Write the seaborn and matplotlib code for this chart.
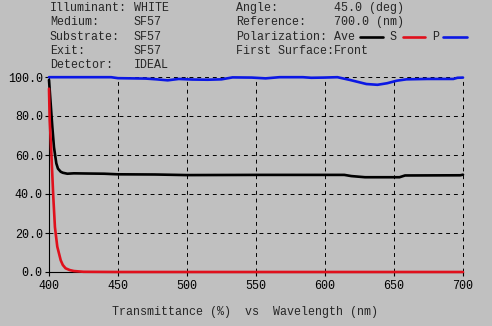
import matplotlib
matplotlib.use("Agg")
import matplotlib.pyplot as plt
import seaborn as sns
import pandas as pd
from matplotlib.lines import Line2D

# ---------------- data ----------------
wl_ave = [400, 401.2, 402.4, 403.6, 405.3, 406.5, 408.5, 410, 413.3, 418, 428, 440, 450,
          477, 500, 553, 614, 619, 629, 654, 658, 698, 700]
t_ave = [98.5, 86.5, 74.5, 64.0, 55.7, 53.0, 51.4, 50.9, 50.4, 50.6, 50.5, 50.4, 50.1,
         50.0, 49.7, 49.8, 49.8, 49.2, 48.6, 48.6, 49.5, 49.6, 49.9]

wl_s = [400, 400.5, 401.7, 403.1, 404.3, 406, 408.5, 410, 412, 415, 418, 425, 450, 500, 550, 600, 650, 700]
t_s = [94.0, 78.0, 61.0, 38.6, 23.0, 13.0, 6.0, 3.6, 1.9, 1.0, 0.5, 0.1, 0.0, 0.0, 0.0, 0.0, 0.0, 0.0]

wl_p = [400, 420, 445, 450, 460, 470, 478, 486, 494, 504, 515, 525, 533, 547, 557, 567,
        584, 590, 599, 609, 618, 630, 638, 645, 652, 659, 674, 693, 696, 700]
t_p = [99.9, 99.9, 99.9, 99.4, 99.3, 99.2, 98.8, 98.3, 99.0, 98.7, 98.6, 98.8, 99.8, 99.7,
       99.3, 99.9, 99.9, 99.6, 99.7, 99.9, 98.5, 96.4, 96.0, 96.8, 98.1, 98.8, 99.0, 99.0,
       99.6, 99.7]

series_names = ["Ave", "S", "P"]
series_colors = {"Ave": "#000000", "S": "#e0101c", "P": "#0c18e4"}

x_ticks = [400, 450, 500, 550, 600, 650, 700]
y_ticks = [0, 20, 40, 60, 80, 100]

header_left = [("Illuminant:", "WHITE"), ("Medium:", "SF57"), ("Substrate:", "SF57"),
               ("Exit:", "SF57"), ("Detector:", "IDEAL")]
header_right = [("Angle:", "45.0 (deg)"), ("Reference:", "700.0 (nm)"),
                ("Polarization:", "Ave"), ("First Surface:", "Front")]
x_title = "Transmittance (%)  vs  Wavelength (nm)"

# ---------------- build long table ----------------
frames = []
for name, wl, t in [("Ave", wl_ave, t_ave), ("S", wl_s, t_s), ("P", wl_p, t_p)]:
    frames.append(pd.DataFrame({"wavelength": wl, "T": t, "series": name}))
df = pd.concat(frames, ignore_index=True)

# ---------------- plotting ----------------
BG = "#c0c0c0"
sns.set_style("white")
plt.rcParams["font.family"] = ["Liberation Mono", "DejaVu Sans Mono"]
plt.rcParams["font.size"] = 8.4

W, H = 492, 326
fig = plt.figure(figsize=(W / 100, H / 100), dpi=100, facecolor=BG)
ax = fig.add_axes([49 / W, 1 - 272 / H, (463 - 49) / W, (272 - 77) / H])
ax.set_facecolor(BG)

sns.lineplot(data=df, x="wavelength", y="T", hue="series", hue_order=series_names,
             palette=series_colors, estimator=None, sort=False, legend=False,
             linewidth=1.9, ax=ax, zorder=3)
for ln in ax.get_lines():
    ln.set_clip_on(False)

ax.set_xlim(400, 700)
ax.set_ylim(0, 100)
ax.set_xticks(x_ticks)
ax.set_xticklabels([str(v) for v in x_ticks])
ax.set_yticks(y_ticks)
ax.set_yticklabels([f"{v:.1f}" for v in y_ticks])
ax.set_xlabel("")
ax.set_ylabel("")

ax.grid(True, color="black", linestyle=(0, (4, 4)), linewidth=0.7)
for line in ax.get_xgridlines() + ax.get_ygridlines():
    line.set_clip_on(False)

for s in ["top", "right"]:
    ax.spines[s].set_visible(False)
for s in ["left", "bottom"]:
    ax.spines[s].set_color("black")
    ax.spines[s].set_linewidth(0.8)

ax.tick_params(axis="both", direction="out", length=3, width=0.8, color="black",
               labelsize=8.4, labelcolor="black")
ax.tick_params(axis="x", pad=2.5)
ax.tick_params(axis="y", pad=1.5)
ax.tick_params(left=True, bottom=True)

# header text
row_y = [8, 22, 36.5, 51, 65]
for i, (lab, val) in enumerate(header_left):
    y = 1 - row_y[i] / H
    fig.text(50 / W, y, lab, ha="left", va="center", fontsize=8.4)
    fig.text(134 / W, y, val, ha="left", va="center", fontsize=8.4)
for i, (lab, val) in enumerate(header_right):
    y = 1 - row_y[i] / H
    fig.text(236 / W, y, lab, ha="left", va="center", fontsize=8.4)
    fig.text(334 / W, y, val, ha="left", va="center", fontsize=8.4)

# polarization legend in header
yl = 1 - row_y[2] / H
fig.add_artist(Line2D([360 / W, 383 / W], [yl, yl], color=series_colors["Ave"], lw=1.9))
fig.text(390 / W, yl, "S", ha="left", va="center", fontsize=8.4)
fig.add_artist(Line2D([403 / W, 425 / W], [yl, yl], color=series_colors["S"], lw=1.9))
fig.text(432 / W, yl, "P", ha="left", va="center", fontsize=8.4)
fig.add_artist(Line2D([443 / W, 467 / W], [yl, yl], color=series_colors["P"], lw=1.9))

fig.text(245 / W, 1 - 312.5 / H, x_title, ha="center", va="center", fontsize=8.4)

fig.savefig("out.png", dpi=100, facecolor=BG)
